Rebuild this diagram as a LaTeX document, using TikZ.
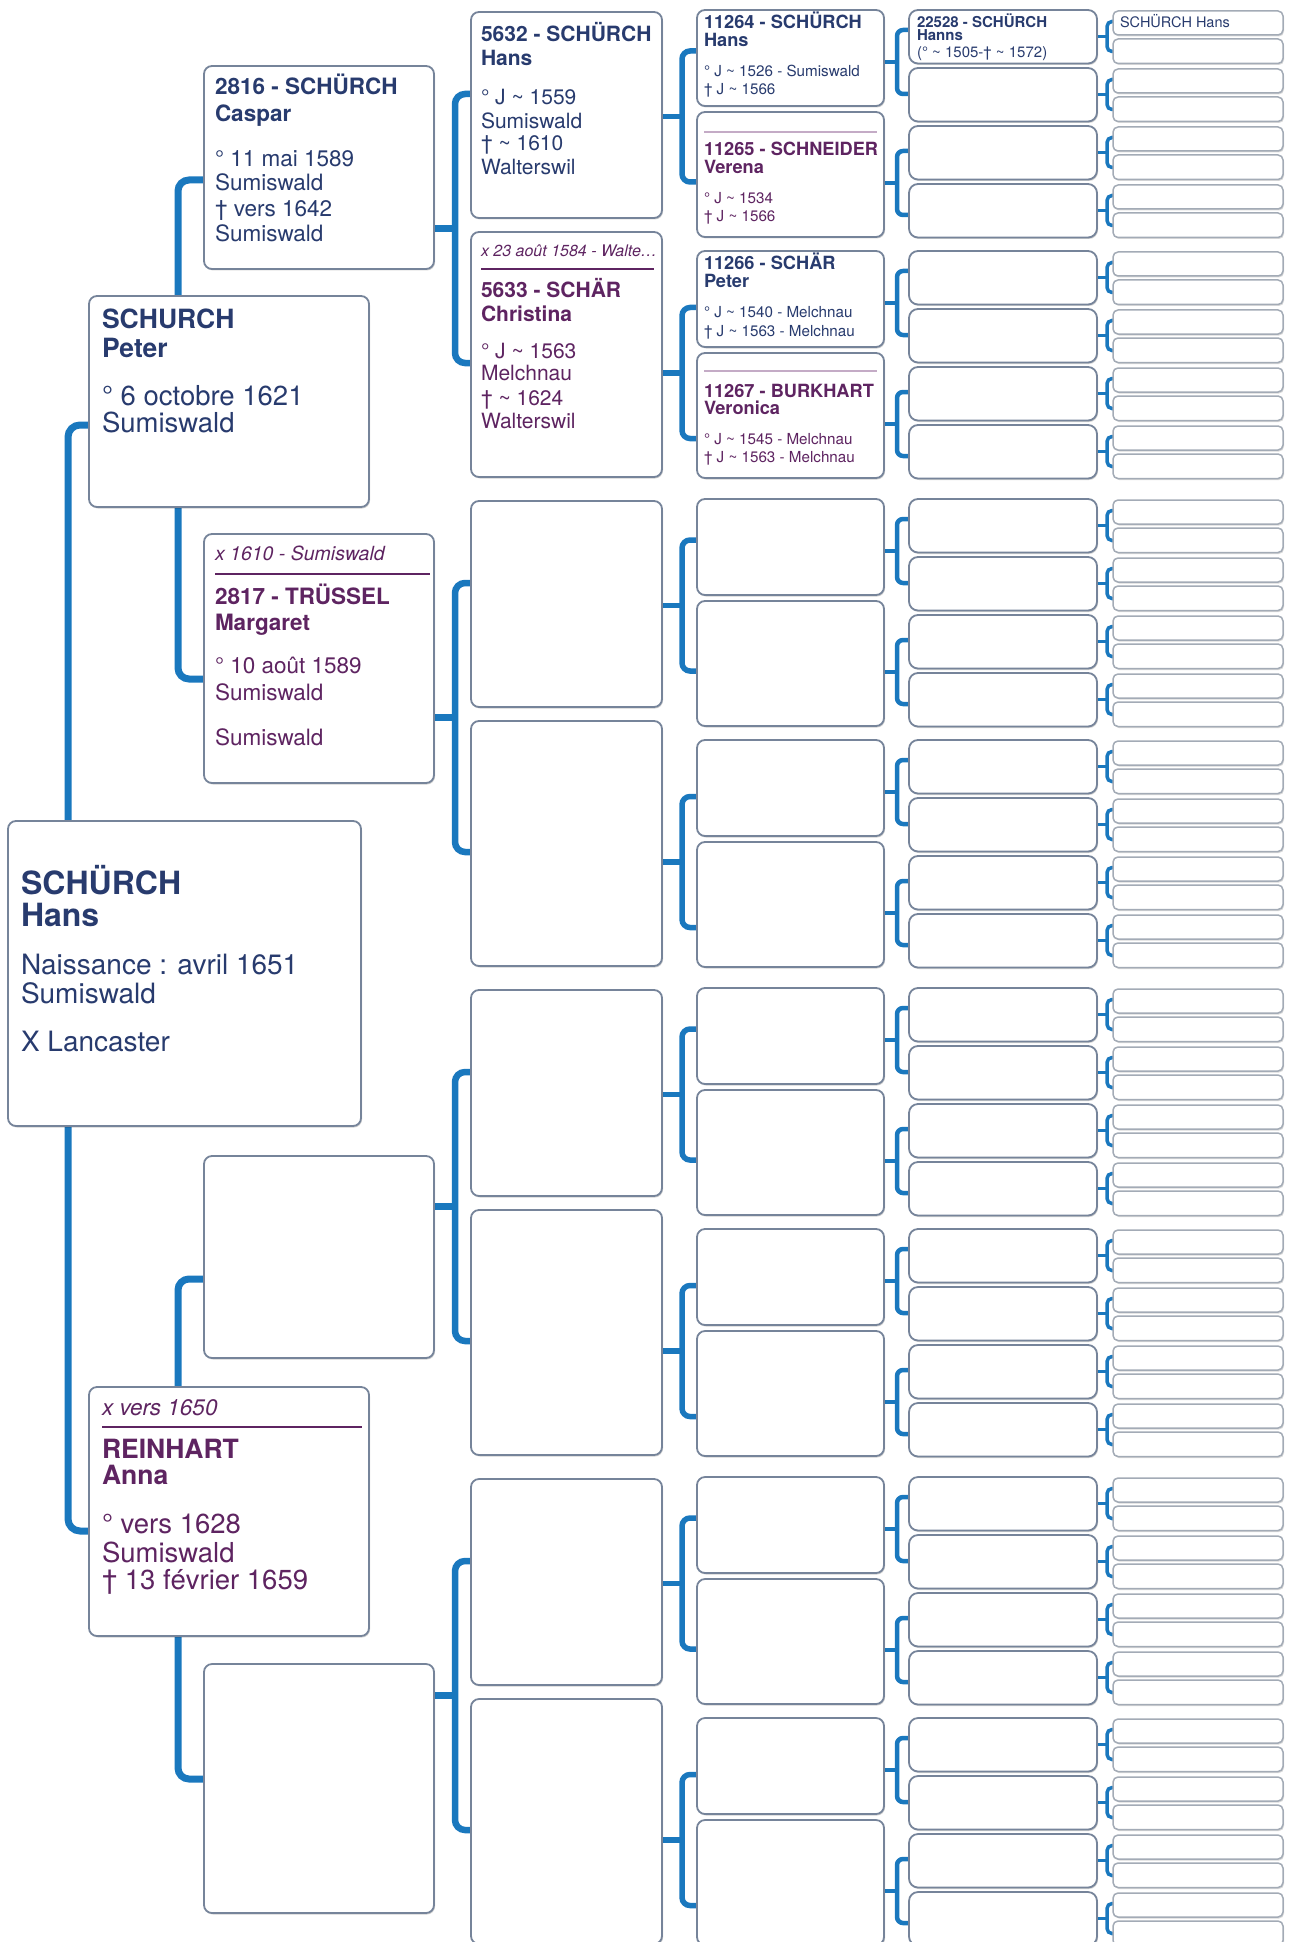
\documentclass[tikz,border=0pt]{standalone}
\usepackage{fontspec}
\setmainfont{TeX Gyre Heros}
\usetikzlibrary{shadows}
\definecolor{navy}{HTML}{283B6E}
\definecolor{plum}{HTML}{5E2461}
\definecolor{linkblue}{HTML}{1A78BE}
\definecolor{boxline}{HTML}{76849A}
\definecolor{boxlinelight}{HTML}{A3ABB6}
\definecolor{rulelight}{HTML}{C4ABC6}
\pgfdeclarelayer{bg}
\pgfsetlayers{bg,main}
\newcommand\fs[1]{\fontsize{#1}{#1}\selectfont}
\newcommand\tildex{\textasciitilde}
\newcommand\mkbox[6]{%
  \pgfmathsetmacro\pbW{#5-#3}\pgfmathsetmacro\pbH{#6-#4}%
  \node[#1,anchor=north west,minimum width=\pbW pt,minimum height=\pbH pt] (#2) at (#3,#4) {};}
\newcommand\boxtext[4]{%
  \foreach \yy/\tx [count=\nn] in {#4} \node[txt, text=#3] (#1-\nn) at (#2,\yy) {\tx};}
\tikzset{
  pbox/.style={draw=boxline, line width=1.8pt, fill=white, rounded corners=8pt,
    inner sep=0pt, outer sep=0pt,
    drop shadow={shadow xshift=1pt, shadow yshift=-1.5pt, opacity=.18, fill=black}},
  sbox/.style={pbox, rounded corners=9pt},
  tbox/.style={draw=boxlinelight, line width=1.5pt, fill=white, rounded corners=5pt,
    inner sep=0pt, outer sep=0pt,
    drop shadow={shadow xshift=1pt, shadow yshift=-1.5pt, opacity=.15, fill=black}},
  link/.style={draw=linkblue, line cap=butt},
  txt/.style={anchor=base west, inner sep=0pt, outer sep=0pt},
}
\begin{document}
\begin{tikzpicture}[x=1pt,y=-1pt]
\useasboundingbox (0,0) rectangle (1292,1942);

% ---- root, col1, col2
\mkbox{pbox}{root}{8}{821}{361}{1126}
\mkbox{pbox}{peter}{89}{296}{369}{507}
\mkbox{pbox}{anna}{89}{1387}{369}{1636}
\mkbox{pbox}{c2-0}{204}{66}{434}{269}
\mkbox{pbox}{c2-1}{204}{534}{434}{783}
\mkbox{pbox}{c2-2}{204}{1156}{434}{1358}
\mkbox{pbox}{c2-3}{204}{1664}{434}{1913}

\begin{pgfonlayer}{bg}
\draw[link, line width=7pt, rounded corners=12pt] ([yshift=-129pt]peter.north west) -- ++(-21,0) |- ([yshift=-144pt]anna.north west);
\draw[link, line width=7pt, rounded corners=11pt] ([yshift=-114pt]c2-0.north west) -- ++(-26,0) |- ([yshift=-145pt]c2-1.north west);
\draw[link, line width=7pt, rounded corners=11pt] ([yshift=-123pt]c2-2.north west) -- ++(-26,0) |- ([yshift=-115pt]c2-3.north west);
\end{pgfonlayer}

% ---- col3 to col6
\foreach \kk/\stoff in {0/162.5,1/183.5,2/50.5,3/31.5} {
  \pgfmathsetmacro\gy{489*\kk}
  \pgfmathsetmacro\ya{12+\gy}\pgfmathsetmacro\yb{218+\gy}
  \mkbox{pbox}{c3f-\kk}{471}{\ya}{662}{\yb}
  \pgfmathsetmacro\ya{232+\gy}\pgfmathsetmacro\yb{477+\gy}
  \mkbox{pbox}{c3m-\kk}{471}{\ya}{662}{\yb}
  \begin{pgfonlayer}{bg}
    \draw[link, line width=7pt] ([yshift=-\stoff pt]c2-\kk.north east) -- ++(21,0);
    \draw[link, line width=6.5pt, rounded corners=10pt] ([yshift=-82pt]c3f-\kk.north west) -- ++(-16,0) |- ([yshift=-131pt]c3m-\kk.north west);
  \end{pgfonlayer}
  \foreach \jj/\src/\sof/\efo/\emo in {0/f/104.5/41/70, 1/m/141/56.5/85.5} {
    \pgfmathsetmacro\hy{\gy+241*\jj}
    \pgfmathsetmacro\ya{10+\hy}\pgfmathsetmacro\yb{106+\hy}
    \mkbox{pbox}{c4f-\kk-\jj}{697}{\ya}{884}{\yb}
    \pgfmathsetmacro\ya{112+\hy}\pgfmathsetmacro\yb{237+\hy}
    \mkbox{pbox}{c4m-\kk-\jj}{697}{\ya}{884}{\yb}
    \begin{pgfonlayer}{bg}
      \draw[link, line width=5.5pt] ([yshift=-\sof pt]c3\src-\kk.north east) -- ++(20,0);
      \draw[link, line width=5.5pt, rounded corners=8pt] ([yshift=-\efo pt]c4f-\kk-\jj.north west) -- ++(-15,0) |- ([yshift=-\emo pt]c4m-\kk-\jj.north west);
    \end{pgfonlayer}
    \foreach \ii in {0,...,3} {
      \pgfmathsetmacro\ty{\hy+10+58*\ii}
      \pgfmathsetmacro\tb{\ty+53.5}
      \mkbox{sbox}{c5-\kk-\jj-\ii}{909}{\ty}{1097}{\tb}
      \pgfmathsetmacro\ya{\ty+1}\pgfmathsetmacro\yb{\ty+25}
      \mkbox{tbox}{c6-\kk-\jj-\ii-a}{1113}{\ya}{1283}{\yb}
      \pgfmathsetmacro\ya{\ty+29}\pgfmathsetmacro\yb{\ty+53.5}
      \mkbox{tbox}{c6-\kk-\jj-\ii-b}{1113}{\ya}{1283}{\yb}
      \begin{pgfonlayer}{bg}
        \draw[link, line width=3.5pt] ([yshift=-26.5pt]c5-\kk-\jj-\ii.north east) -- ++(10,0);
        \draw[link, line width=3.5pt, rounded corners=5pt] ([yshift=-10.5pt]c6-\kk-\jj-\ii-a.north west) -- ++(-6,0) |- ([yshift=-12.5pt]c6-\kk-\jj-\ii-b.north west);
      \end{pgfonlayer}
    }
    \begin{pgfonlayer}{bg}
      \draw[link, line width=4.5pt] ([yshift=-52pt]c4f-\kk-\jj.north east) -- ++(13,0);
      \draw[link, line width=4.5pt] ([yshift=-71pt]c4m-\kk-\jj.north east) -- ++(13,0);
      \draw[link, line width=4.5pt, rounded corners=6pt] ([yshift=-20pt]c5-\kk-\jj-0.north west) -- ++(-12,0) |- ([yshift=-26pt]c5-\kk-\jj-1.north west);
      \draw[link, line width=4.5pt, rounded corners=6pt] ([yshift=-25pt]c5-\kk-\jj-2.north west) -- ++(-12,0) |- ([yshift=-31pt]c5-\kk-\jj-3.north west);
    \end{pgfonlayer}
  }
}

% ---- texts
\boxtext{troot}{21}{navy}{894/{\bfseries\fs{32}SCHÜRCH}, 926/{\bfseries\fs{32}Hans},
  974/{\fs{28}Naissance : avril 1651}, 1003/{\fs{28}Sumiswald}, 1051/{\fs{28}X Lancaster}}
\boxtext{tpeter}{102}{navy}{328/{\bfseries\fs{26.5}SCHURCH}, 357/{\bfseries\fs{26.5}Peter},
  405/{\fs{27.5}° 6 octobre 1621}, 432/{\fs{27.5}Sumiswald}}
\boxtext{tanna}{102}{plum}{1415/{\itshape\fs{22.5}x vers 1650}, 1458/{\bfseries\fs{26.5}REINHART}, 1484/{\bfseries\fs{26.5}Anna},
  1533/{\fs{27.5}° vers 1628}, 1562/{\fs{27.5}Sumiswald}, 1589/{\fs{27.5}† 13 février 1659}}
\draw[plum, line width=1.5pt] (102,1427) -- (362,1427);
\boxtext{tcaspar}{215}{navy}{95/{\bfseries\fs{22.5}2816 - SCHÜRCH}, 122/{\bfseries\fs{22.5}Caspar},
  167/{\fs{22.5}° 11 mai 1589}, 191/{\fs{22.5}Sumiswald}, 217/{\fs{22.5}† vers 1642}, 242/{\fs{22.5}Sumiswald}}
\boxtext{tmarg}{215}{plum}{560/{\itshape\fs{19.5}x 1610 - Sumiswald}, 604/{\bfseries\fs{22.5}2817 - TRÜSSEL}, 630/{\bfseries\fs{22.5}Margaret},
  673/{\fs{22.5}° 10 août 1589}, 700/{\fs{22.5}Sumiswald}, 745/{\fs{22.5}Sumiswald}}
\draw[plum, line width=1.5pt] (215,574) -- (430,574);
\boxtext{t5632}{481}{navy}{42/{\bfseries\fs{21}5632 - SCHÜRCH}, 66/{\bfseries\fs{21}Hans},
  105/{\fs{21}° J \tildex{} 1559}, 129/{\fs{21}Sumiswald}, 151/{\fs{21}† \tildex{} 1610}, 175/{\fs{21}Walterswil}}
\boxtext{t5633}{481}{plum}{257/{\itshape\fs{16}x 23 août 1584 - Walte…}, 298/{\bfseries\fs{21}5633 - SCHÄR}, 322/{\bfseries\fs{21}Christina},
  358/{\fs{21}° J \tildex{} 1563}, 380/{\fs{21}Melchnau}, 405/{\fs{21}† \tildex{} 1624}, 428/{\fs{21}Walterswil}}
\draw[plum, line width=1.5pt] (481,269) -- (654,269);
\boxtext{t11264}{704}{navy}{29/{\bfseries\fs{18.2}11264 - SCHÜRCH}, 47/{\bfseries\fs{18.2}Hans},
  77/{\fs{15.2}° J \tildex{} 1526 - Sumiswald}, 95/{\fs{15.2}† J \tildex{} 1566}}
\boxtext{t11265}{704}{plum}{156/{\bfseries\fs{18.2}11265 - SCHNEIDER}, 174/{\bfseries\fs{18.2}Verena},
  204/{\fs{15.2}° J \tildex{} 1534}, 222/{\fs{15.2}† J \tildex{} 1566}}
\draw[rulelight, line width=1.5pt] (704,132) -- (877,132);
\boxtext{t11266}{704}{navy}{270/{\bfseries\fs{18.2}11266 - SCHÄR}, 288/{\bfseries\fs{18.2}Peter},
  318/{\fs{15.2}° J \tildex{} 1540 - Melchnau}, 337/{\fs{15.2}† J \tildex{} 1563 - Melchnau}}
\boxtext{t11267}{704}{plum}{397/{\bfseries\fs{18.2}11267 - BURKHART}, 414/{\bfseries\fs{18.2}Veronica},
  444/{\fs{15.2}° J \tildex{} 1545 - Melchnau}, 462/{\fs{15.2}† J \tildex{} 1563 - Melchnau}}
\draw[rulelight, line width=1.5pt] (704,371) -- (877,371);
\boxtext{t22528}{917}{navy}{28/{\bfseries\fs{15}22528 - SCHÜRCH}, 41/{\bfseries\fs{15}Hanns},
  58/{\fs{15}(° \tildex{} 1505-† \tildex{} 1572)}}
\boxtext{tc6}{1120}{navy}{28/{\fs{14.5}SCHÜRCH Hans}}
\end{tikzpicture}
\end{document}
